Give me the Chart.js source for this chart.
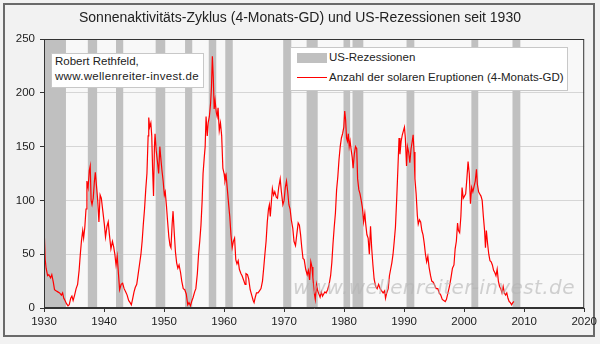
<!DOCTYPE html>
<html lang="de">
<head>
  <meta charset="UTF-8">
  <title>Sonnenaktivität und US-Rezessionen</title>
  <script src="https://cdn.jsdelivr.net/npm/chart.js"></script>
  <style>
    body { margin: 0; background: #fff; font-family: "Liberation Sans", Arial, sans-serif; }
    .wrap { position: relative; width: 600px; height: 344px; overflow: hidden; }
    canvas { position: absolute; left: 0; top: 0; }
    .title { position: absolute; left: 0; width: 600px; top: 8px; text-align: center; font-size: 14px; color: #222; line-height: 18px; }
    .box { position: absolute; background: #fff; border: 1px solid #c8c8c8; box-sizing: border-box; }
    .autor { left: 51px; top: 53px; width: 153px; height: 35px; font-size: 11.5px; line-height: 15px; color: #222; padding-left: 3px; }
    .autor span { letter-spacing: 0.3px; }
    .legende { left: 290px; top: 47px; width: 278px; height: 44px; }
    .lg-text { position: absolute; left: 329px; font-size: 11.5px; color: #222; line-height: 14px; white-space: nowrap; }
    .swatch { position: absolute; left: 297px; top: 53px; width: 30px; height: 10px; background: #c0c0c0; }
    .redline { position: absolute; left: 297px; top: 77px; width: 30px; height: 1px; background: #ff0000; }
    .watermark { position: absolute; left: 293px; top: 275px; font-family: "DejaVu Sans", sans-serif; font-style: italic; font-size: 20px; letter-spacing: 0.4px; color: rgba(180,180,180,0.6); white-space: nowrap; pointer-events: none; }
  </style>
</head>
<body>
<div class="wrap">
  <canvas id="chart" width="600" height="344"></canvas>
  <div class="title">Sonnenaktivitäts-Zyklus (4-Monats-GD) und US-Rezessionen seit 1930</div>
  <div class="box autor">Robert Rethfeld,<br><span>www.wellenreiter-invest.de</span></div>
  <div class="box legende"></div>
  <div class="swatch"></div>
  <div class="lg-text" style="top:50px">US-Rezessionen</div>
  <div class="redline"></div>
  <div class="lg-text" style="top:70px">Anzahl der solaren Eruptionen (4-Monats-GD)</div>
  <div class="watermark">www.wellenreiter-invest.de</div>
</div>

<script>
  // US-Rezessionen (Beginn / Ende, Dezimaljahr)
  const recessionStart = [1930.0, 1937.3, 1942.0, 1948.6, 1953.5, 1957.45, 1960.2, 1969.85, 1973.75, 1979.9, 1981.4, 1990.4, 2001.2, 2008.05];
  const recessionEnd   = [1933.66, 1938.85, 1943.2, 1950.2, 1954.7, 1958.7, 1961.45, 1971.2, 1975.6, 1981.0, 1983.2, 1991.7, 2002.35, 2009.4];

  // Sonnenflecken, 4-Monats-GD [Jahr, Wert]
  const solarData = [
    [1930.0, 77], [1930.2, 45], [1930.35, 37], [1930.6, 30], [1930.8, 31], [1931.1, 28], [1931.3, 31],
    [1931.55, 24], [1931.75, 17], [1932.0, 16], [1932.3, 15], [1932.6, 14], [1932.9, 12], [1933.1, 14],
    [1933.3, 9], [1933.5, 7], [1933.75, 4], [1934.0, 2], [1934.2, 3], [1934.45, 9], [1934.65, 11],
    [1934.85, 7], [1935.1, 12], [1935.35, 18], [1935.6, 22], [1935.85, 35], [1936.05, 50], [1936.25, 63],
    [1936.45, 72], [1936.6, 65], [1936.8, 75], [1937.0, 92], [1937.15, 118], [1937.35, 112], [1937.55, 128],
    [1937.7, 132], [1937.85, 100], [1938.0, 96], [1938.2, 102], [1938.4, 118], [1938.55, 126], [1938.75, 113],
    [1938.95, 100], [1939.15, 80], [1939.35, 105], [1939.55, 102], [1939.8, 90], [1940.05, 78], [1940.25, 66],
    [1940.5, 76], [1940.7, 80], [1940.9, 68], [1941.15, 55], [1941.4, 62], [1941.6, 57], [1941.8, 50],
    [1942.0, 40], [1942.2, 48], [1942.4, 32], [1942.6, 17], [1942.85, 22], [1943.1, 23], [1943.35, 18],
    [1943.6, 15], [1943.85, 12], [1944.1, 7], [1944.35, 5], [1944.55, 3], [1944.75, 8], [1945.0, 15],
    [1945.2, 19], [1945.45, 22], [1945.7, 32], [1945.9, 40], [1946.15, 50], [1946.35, 62], [1946.55, 78],
    [1946.75, 92], [1946.95, 110], [1947.15, 125], [1947.35, 160], [1947.45, 177], [1947.6, 168], [1947.8, 172],
    [1947.95, 160], [1948.1, 128], [1948.25, 104], [1948.4, 150], [1948.5, 162], [1948.7, 146], [1948.9, 136],
    [1949.1, 125], [1949.3, 150], [1949.45, 140], [1949.65, 128], [1949.85, 118], [1950.05, 105], [1950.2, 108],
    [1950.4, 95], [1950.6, 80], [1950.8, 66], [1951.0, 58], [1951.15, 56], [1951.35, 78], [1951.5, 90],
    [1951.7, 70], [1951.9, 52], [1952.1, 42], [1952.3, 37], [1952.5, 40], [1952.75, 33], [1952.95, 25],
    [1953.2, 18], [1953.45, 17], [1953.7, 13], [1953.95, 3], [1954.15, 5], [1954.4, 2], [1954.6, 6],
    [1954.85, 10], [1955.1, 15], [1955.3, 18], [1955.55, 32], [1955.75, 50], [1955.95, 62], [1956.15, 77],
    [1956.35, 100], [1956.5, 125], [1956.7, 140], [1956.85, 150], [1957.0, 178], [1957.2, 160], [1957.35, 172],
    [1957.55, 178], [1957.75, 190], [1957.9, 205], [1958.05, 234], [1958.2, 215], [1958.35, 185], [1958.5, 193],
    [1958.7, 182], [1958.85, 178], [1959.0, 186], [1959.2, 165], [1959.4, 172], [1959.6, 160], [1959.8, 130],
    [1960.0, 125], [1960.15, 118], [1960.35, 123], [1960.55, 110], [1960.75, 97], [1960.95, 85], [1961.15, 68],
    [1961.35, 56], [1961.55, 62], [1961.75, 65], [1961.95, 45], [1962.15, 41], [1962.35, 44], [1962.55, 36],
    [1962.8, 32], [1963.0, 30], [1963.25, 26], [1963.5, 22], [1963.65, 32], [1963.9, 31], [1964.1, 27],
    [1964.35, 17], [1964.6, 12], [1964.85, 7], [1965.0, 5], [1965.2, 10], [1965.4, 14], [1965.65, 14],
    [1965.9, 16], [1966.15, 18], [1966.4, 25], [1966.6, 37], [1966.8, 50], [1967.0, 62], [1967.2, 80],
    [1967.4, 92], [1967.55, 96], [1967.7, 85], [1967.9, 100], [1968.05, 111], [1968.25, 105], [1968.45, 108],
    [1968.7, 103], [1968.9, 102], [1969.1, 112], [1969.35, 120], [1969.55, 108], [1969.8, 96], [1970.0, 100],
    [1970.2, 112], [1970.4, 118], [1970.6, 108], [1970.8, 96], [1971.0, 92], [1971.2, 82], [1971.45, 74],
    [1971.65, 62], [1971.9, 58], [1972.15, 70], [1972.35, 79], [1972.55, 77], [1972.75, 68], [1972.95, 56],
    [1973.15, 46], [1973.35, 45], [1973.6, 36], [1973.85, 31], [1974.05, 35], [1974.25, 26], [1974.45, 43],
    [1974.65, 38], [1974.8, 28], [1975.0, 15], [1975.2, 8], [1975.4, 22], [1975.6, 16], [1975.8, 13],
    [1976.0, 10], [1976.2, 15], [1976.4, 11], [1976.6, 13], [1976.8, 15], [1977.0, 14], [1977.25, 17],
    [1977.5, 22], [1977.75, 30], [1977.95, 42], [1978.15, 60], [1978.35, 75], [1978.55, 88], [1978.75, 110],
    [1978.95, 122], [1979.15, 138], [1979.35, 150], [1979.55, 158], [1979.75, 162], [1979.95, 168], [1980.1, 183],
    [1980.25, 175], [1980.4, 158], [1980.55, 155], [1980.7, 162], [1980.85, 150], [1981.0, 155], [1981.15, 148],
    [1981.35, 140], [1981.5, 130], [1981.7, 143], [1981.9, 150], [1982.1, 148], [1982.25, 120], [1982.45, 110],
    [1982.65, 106], [1982.85, 100], [1983.05, 93], [1983.25, 80], [1983.45, 88], [1983.6, 78], [1983.8, 68],
    [1984.0, 65], [1984.2, 50], [1984.4, 76], [1984.6, 55], [1984.8, 40], [1985.0, 27], [1985.25, 20],
    [1985.5, 18], [1985.75, 22], [1986.0, 18], [1986.25, 16], [1986.5, 14], [1986.75, 16], [1986.9, 9],
    [1987.1, 14], [1987.35, 18], [1987.55, 30], [1987.75, 36], [1987.95, 42], [1988.15, 50], [1988.35, 62],
    [1988.55, 75], [1988.75, 100], [1988.95, 128], [1989.15, 158], [1989.3, 143], [1989.5, 155], [1989.7, 161],
    [1989.9, 165], [1990.05, 168], [1990.2, 158], [1990.4, 132], [1990.55, 150], [1990.75, 145], [1990.95, 135],
    [1991.15, 148], [1991.35, 155], [1991.5, 161], [1991.65, 145], [1991.8, 120], [1992.0, 106], [1992.2, 86],
    [1992.35, 78], [1992.55, 82], [1992.75, 80], [1992.95, 72], [1993.15, 68], [1993.35, 60], [1993.55, 50],
    [1993.75, 43], [1993.95, 48], [1994.15, 38], [1994.4, 30], [1994.6, 25], [1994.85, 24], [1995.1, 21],
    [1995.35, 18], [1995.6, 18], [1995.85, 14], [1996.1, 12], [1996.35, 8], [1996.6, 7], [1996.85, 6],
    [1997.05, 8], [1997.3, 14], [1997.55, 20], [1997.8, 28], [1998.05, 37], [1998.3, 40], [1998.5, 55],
    [1998.7, 62], [1998.9, 79], [1999.05, 72], [1999.25, 70], [1999.45, 85], [1999.65, 112], [1999.85, 102],
    [2000.05, 104], [2000.25, 106], [2000.45, 120], [2000.65, 136], [2000.85, 125], [2001.05, 97], [2001.25, 112],
    [2001.45, 108], [2001.65, 113], [2001.85, 118], [2002.05, 129], [2002.2, 115], [2002.4, 108], [2002.6, 106],
    [2002.8, 104], [2003.0, 100], [2003.2, 85], [2003.4, 72], [2003.55, 56], [2003.7, 72], [2003.9, 60],
    [2004.1, 50], [2004.3, 44], [2004.5, 43], [2004.7, 40], [2004.9, 35], [2005.1, 33], [2005.3, 30],
    [2005.5, 36], [2005.7, 25], [2005.9, 20], [2006.1, 18], [2006.3, 14], [2006.5, 20], [2006.7, 14],
    [2006.9, 12], [2007.1, 14], [2007.3, 9], [2007.5, 6], [2007.7, 5], [2007.9, 3], [2008.1, 5], [2008.3, 6]
  ];

  const yTicks = [0, 50, 100, 150, 200, 250];
  const xTicks = [1930, 1940, 1950, 1960, 1970, 1980, 1990, 2000, 2010, 2020];

  // Rezessionsbalken als gefüllte Rechteckfläche (0 bis 250)
  const recessionPoints = [];
  recessionStart.forEach(function(s, i) {
    const e = recessionEnd[i];
    recessionPoints.push({x: s, y: 0}, {x: s, y: 250}, {x: e, y: 250}, {x: e, y: 0});
  });

  // Hintergrund + Rahmen
  const framePlugin = {
    id: 'frame',
    beforeDraw(chart) {
      const ctx = chart.ctx, a = chart.chartArea;
      ctx.save();
      ctx.fillStyle = '#f2f2f2';
      ctx.fillRect(0, 0, chart.width, chart.height);
      ctx.fillStyle = '#f8f8f8';
      ctx.fillRect(a.left, a.top, a.right - a.left, a.bottom - a.top);
      ctx.strokeStyle = '#6a6a6a';
      ctx.lineWidth = 2;
      ctx.strokeRect(4, 4, 590, 332);
      ctx.restore();
    },
    afterDraw(chart) {
      const ctx = chart.ctx, a = chart.chartArea;
      ctx.save();
      ctx.strokeStyle = '#333';
      ctx.lineWidth = 1;
      ctx.strokeRect(a.left + 0.5, a.top + 0.5, a.right - a.left - 1, a.bottom - a.top - 1);
      ctx.restore();
    }
  };

  const tickFont = { family: '"Liberation Sans", Arial, sans-serif', size: 11.5 };

  new Chart(document.getElementById('chart'), {
    type: 'line',
    data: {
      datasets: [
        {
          label: 'Anzahl der solaren Eruptionen (4-Monats-GD)',
          data: solarData.map(function(d) { return {x: d[0], y: d[1]}; }),
          borderColor: '#ff0000',
          borderWidth: 1.2,
          pointRadius: 0,
          tension: 0,
          fill: false,
          order: 0
        },
        {
          label: 'US-Rezessionen',
          data: recessionPoints,
          borderWidth: 0,
          borderColor: 'rgba(0,0,0,0)',
          backgroundColor: '#c0c0c0',
          pointRadius: 0,
          fill: 'origin',
          order: 1
        }
      ]
    },
    options: {
      responsive: false,
      animation: false,
      devicePixelRatio: 1,
      layout: { padding: { top: 39, left: 0, right: 13, bottom: 0 } },
      plugins: {
        legend: { display: false },
        tooltip: { enabled: false },
        title: { display: false }
      },
      scales: {
        x: {
          type: 'linear',
          min: xTicks[0],
          max: xTicks[xTicks.length - 1],
          afterFit: function(s) { s.height = 36; },
          afterBuildTicks: function(s) { s.ticks = xTicks.map(function(v) { return {value: v}; }); },
          grid: { drawOnChartArea: false, drawTicks: true, tickLength: 4, tickColor: '#333' },
          border: { color: '#333' },
          ticks: {
            color: '#222',
            font: tickFont,
            padding: 3,
            maxRotation: 0,
            callback: function(v) { return String(v); }
          }
        },
        y: {
          min: yTicks[0],
          max: yTicks[yTicks.length - 1],
          afterFit: function(s) { s.width = 44; },
          afterBuildTicks: function(s) { s.ticks = yTicks.map(function(v) { return {value: v}; }); },
          grid: { color: '#d6d6d6', drawTicks: true, tickLength: 4, tickColor: '#333' },
          border: { color: '#333' },
          ticks: { color: '#222', font: tickFont, padding: 5 }
        }
      }
    },
    plugins: [framePlugin]
  });
</script>
</body>
</html>
